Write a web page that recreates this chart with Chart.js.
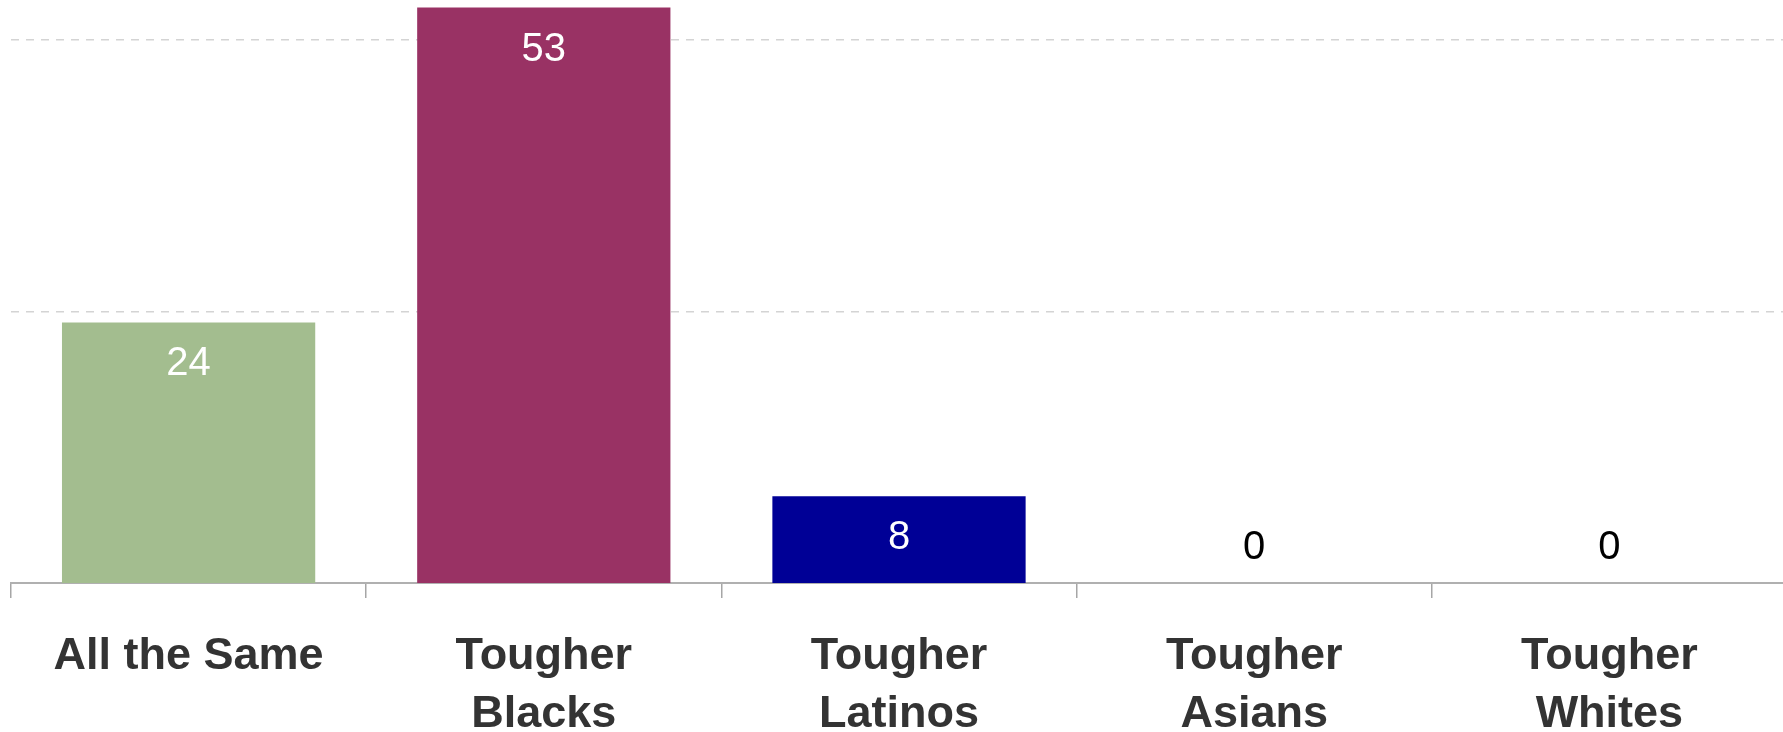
<!DOCTYPE html>
<html>
<head>
<meta charset="utf-8">
<script src="https://cdn.jsdelivr.net/npm/chart.js@4"></script>
<style>
  html, body { margin: 0; padding: 0; background: #fff; overflow: hidden; }
  #wrap { width: 1787px; height: 732px; }
</style>
</head>
<body>
<div id="wrap"><canvas id="barChart"></canvas></div>
<script>
const categories = [["All the Same"], ["Tougher", "Blacks"], ["Tougher", "Latinos"], ["Tougher", "Asians"], ["Tougher", "Whites"]];
const values = [24, 53, 8, 0, 0];
const barColors = ["#a3bd8f", "#993264", "#000096", "#000096", "#000096"];
const gridTicks = [25, 50];

const FONT = "'Liberation Sans', Arial, sans-serif";

// value labels: white inside the bar top, black above the axis for zero bars
const valueLabels = {
  id: "valueLabels",
  afterDatasetsDraw(chart) {
    const { ctx } = chart;
    const meta = chart.getDatasetMeta(0);
    ctx.save();
    ctx.font = "40px " + FONT;
    ctx.textAlign = "center";
    ctx.textBaseline = "alphabetic";
    meta.data.forEach((bar, i) => {
      const v = values[i];
      if (v > 0) {
        ctx.fillStyle = "#ffffff";
        ctx.fillText(String(v), bar.x, bar.y + 53);
      } else {
        ctx.fillStyle = "#000000";
        ctx.fillText(String(v), bar.x, bar.base - 24);
      }
    });
    ctx.restore();
  }
};

new Chart(document.getElementById("barChart").getContext("2d"), {
  type: "bar",
  data: {
    labels: categories,
    datasets: [{
      data: values,
      backgroundColor: barColors,
      borderWidth: 0,
      categoryPercentage: 1,
      barPercentage: 0.713
    }]
  },
  options: {
    responsive: true,
    maintainAspectRatio: false,
    animation: false,
    layout: { padding: { left: 11, right: 0, top: 0, bottom: 0 } },
    plugins: { legend: { display: false }, tooltip: { enabled: false } },
    scales: {
      x: {
        grid: { display: true, offset: true, drawOnChartArea: false, drawTicks: true, tickLength: 15, color: "#a6a6a6", lineWidth: 1.5 },
        border: { display: true, color: "#b0b0b0", width: 2 },
        ticks: {
          color: "#333333",
          padding: 30,
          maxRotation: 0,
          autoSkip: false,
          font: { family: FONT, size: 45, weight: "bold", lineHeight: 1.29 }
        },
        afterFit(scale) { scale.height = 149; }
      },
      y: {
        min: 0,
        max: 53.7,
        afterBuildTicks(scale) { scale.ticks = gridTicks.map(v => ({ value: v })); },
        afterFit(scale) { scale.width = 0; },
        grid: { color: "#d4d4d4", lineWidth: 1.5, drawTicks: false },
        border: { display: false, dash: [8, 7] },
        ticks: { display: false }
      }
    }
  },
  plugins: [valueLabels]
});
</script>
</body>
</html>
